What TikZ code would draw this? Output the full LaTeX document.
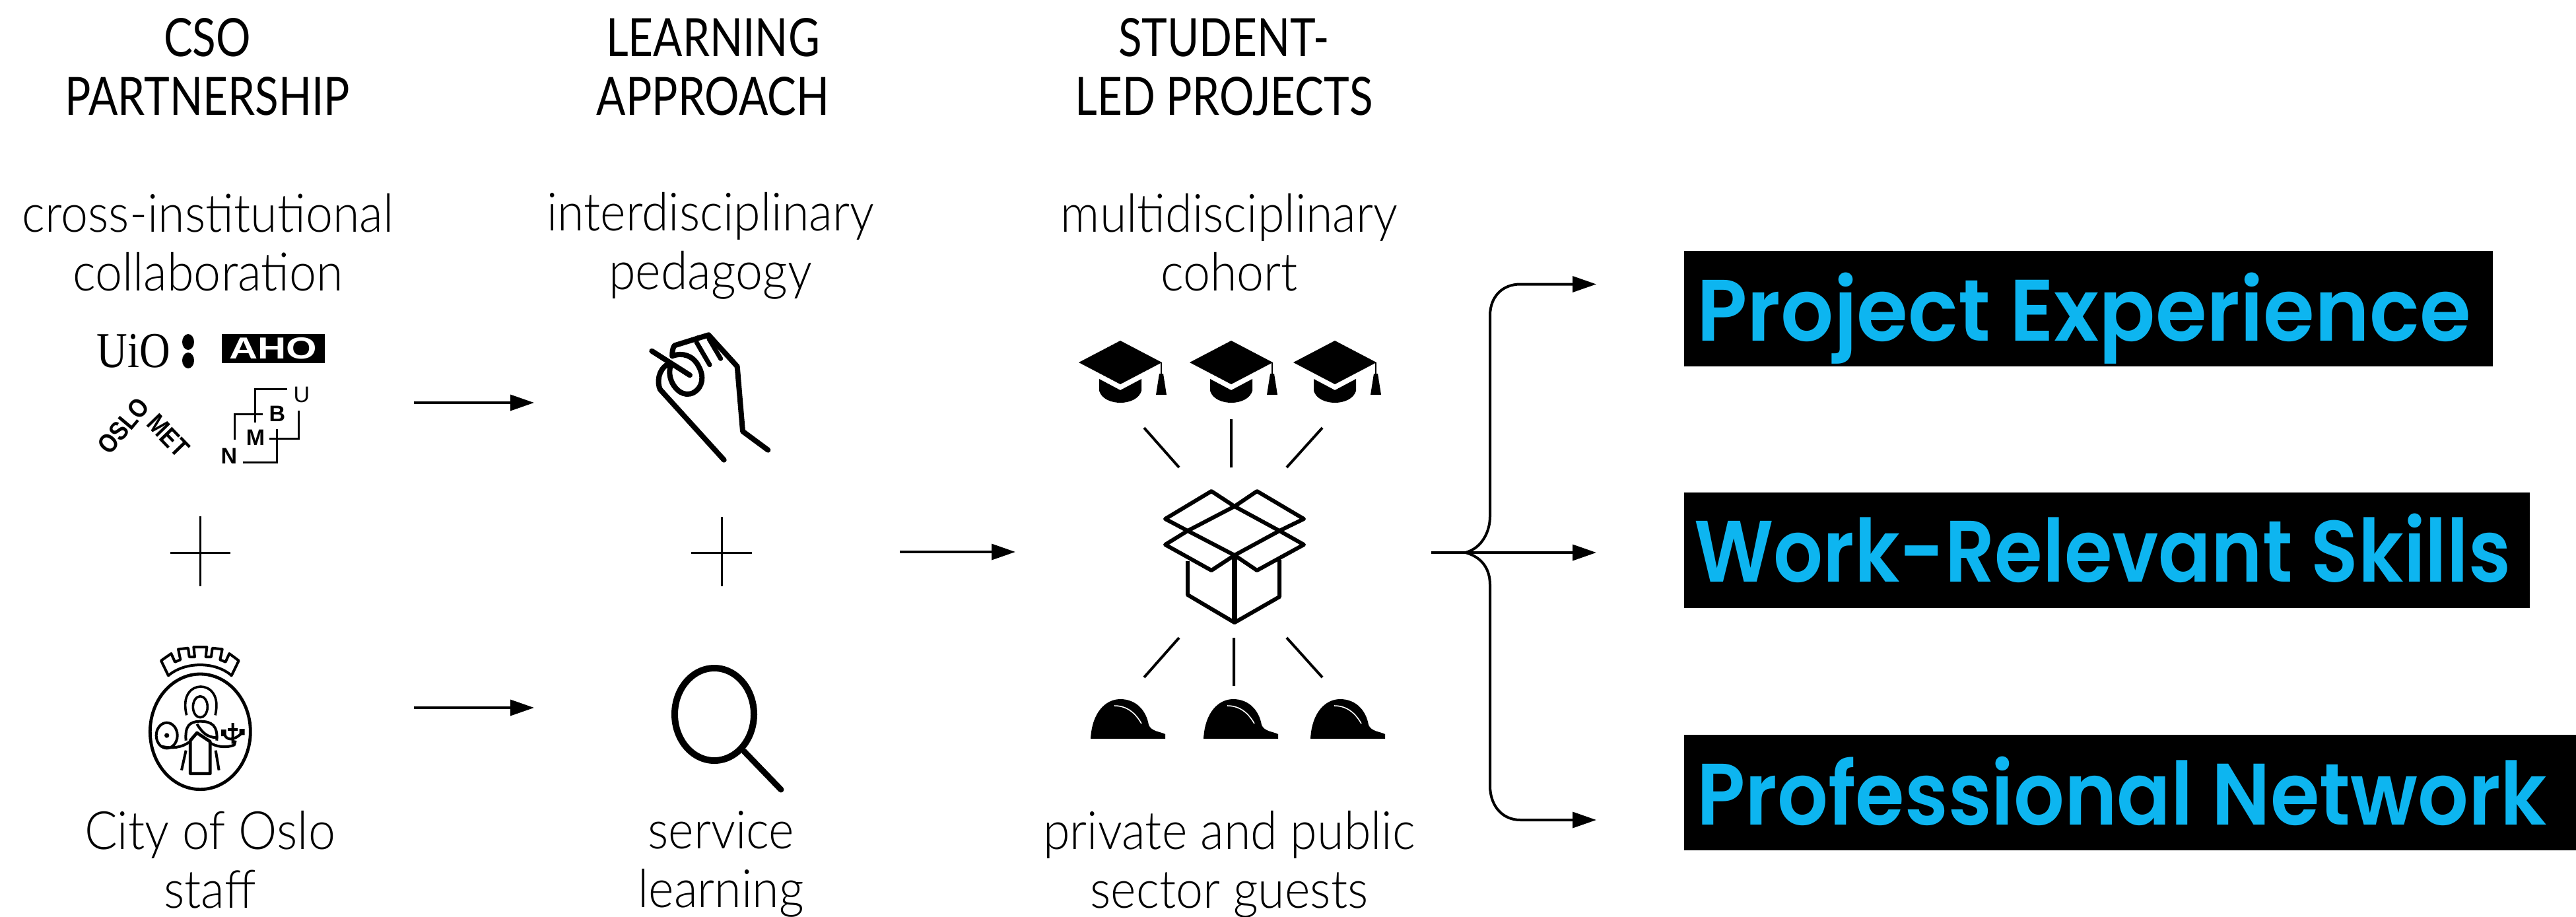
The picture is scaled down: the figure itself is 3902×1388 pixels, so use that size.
\documentclass[tikz,border=0pt]{standalone}
\usepackage{fontspec}
\usetikzlibrary{arrows.meta}
\setmainfont{Lato Light}[FakeStretch=0.92]
\newfontfamily\titlefont{Lato}[FakeStretch=0.82]
\newfontfamily\boxfont{Poppins SemiBold}[FakeStretch=0.88]
\newfontfamily\serifuio{Liberation Serif}[FakeStretch=0.85]
\newfontfamily\ahofont{Liberation Sans}[FakeStretch=1.3]
\newfontfamily\logofont{Liberation Sans}
\newfontfamily\oslofont{Liberation Sans}[FakeStretch=0.85]
\definecolor{skyb}{HTML}{0DB5F0}
\tikzset{
  titlelbl/.style={font=\titlefont\fontsize{40}{44.5}\selectfont,align=center,text=black,inner sep=0pt},
  sublbl/.style={font=\fontsize{40}{44.5}\selectfont,align=center,text=black,inner sep=0pt},
  outbox/.style={fill=black,inner sep=0pt,minimum height=87.5pt,anchor=north west},
  outtext/.style={text=skyb,font=\boxfont\fontsize{66}{72}\selectfont,inner sep=0pt,anchor=base west},
  flowarrow/.style={line width=1.8pt,-{Triangle[length=18pt,width=12pt]}},
  branch/.style={line width=2pt},
  icon/.style={line width=4pt,line cap=round,line join=round},
  boxline/.style={line width=3pt,line join=round},
  plusline/.style={line width=1.5pt},
  spoke/.style={line width=2pt},
  crest/.style={line width=2pt,line join=round},
  logoletter/.style={font=\logofont\bfseries\fontsize{17}{17}\selectfont,inner sep=0pt},
  oslotext/.style={font=\oslofont\bfseries\fontsize{20}{20}\selectfont,inner sep=0pt}
}
\begin{document}
\begin{tikzpicture}[x=0.5pt,y=-0.5pt]
\useasboundingbox (0,0) rectangle (3902,1388);
\fill[white] (0,0) rectangle (3902,1388);
% titles
\node[titlelbl] (t1) at (314,101) {CSO\\PARTNERSHIP};
\node[titlelbl] (t2) at (1080,101) {LEARNING\\APPROACH};
\node[titlelbl] (t3) at (1854,101) {STUDENT-\\LED PROJECTS};
% sublabels
\node[sublbl] (s1) at (315,367) {cross-institutional\\collaboration};
\node[sublbl] (s2) at (1076,372) {interdisciplinary\\pedagogy};
\node[sublbl] (s3) at (1862,367) {multidisciplinary\\cohort};
\node[sublbl] (s4) at (318,1302) {City of Oslo\\staff};
\node[sublbl] (s5) at (1092,1309) {service\\learning};
\node[sublbl] (s6) at (1862,1309) {private and public\\sector guests};
% output boxes
\node[outbox,minimum width=612.5pt] (b1) at (2551,380) {};
\node[outbox,minimum width=640.5pt] (b2) at (2551,746) {};
\node[outbox,minimum width=675.5pt] (b3) at (2551,1113) {};
\node[outtext] (o1) at (2570,516) {\scalebox{1.083}[1]{Project Experience}};
\node[outtext] (o2) at (2566,881) {\scalebox{1.012}[1]{Work-Relevant Skills}};
\node[outtext] (o3) at (2570,1249) {\scalebox{1.038}[1]{Professional Network}};
% UiO
\node[font=\serifuio\fontsize{38}{38}\selectfont,inner sep=0pt,anchor=base west] (uio) at (146,556) {UiO};
\fill (285,518) ellipse (9 and 12) (285,546) ellipse (9 and 12);
\node[fill=black,text=white,font=\ahofont\bfseries\fontsize{23}{23}\selectfont,inner sep=0pt,minimum width=78pt,minimum height=22pt] (aho) at (414,528) {AHO};
% OSLOMET
\node[oslotext,rotate=50] (oslo) at (187,645) {OSLO};
\node[oslotext,rotate=-46] (met) at (255,660) {MET};
% NMBU
\draw[line width=1.5pt] (435,589) -| (386,640);
\draw[line width=1.5pt] (398,627) -| (355,666);
\draw[line width=1.5pt] (408,664) -| (452,622);
\draw[line width=1.5pt] (419,650) |- (368,700);
\node[logoletter,font=\logofont\fontsize{17}{17}\selectfont] (nu) at (457,598) {U};
\node[logoletter] (nb) at (420,627) {B};
\node[logoletter] (nm) at (387,663) {M};
\node[logoletter] (nn) at (347,691) {N};
% plus signs
\draw[plusline] (258,837) -- (349,837) (303,782) -- (303,888);
\draw[plusline] (1047,837) -- (1139,837) (1093,783) -- (1093,888);
% arrows
\coordinate (a1s) at (627,610); \coordinate (a1e) at (809,610);
\coordinate (a2s) at (627,1072); \coordinate (a2e) at (809,1072);
\coordinate (a3s) at (1363,836); \coordinate (a3e) at (1538,836);
\draw[flowarrow] (a1s) -- (a1e);
\draw[flowarrow] (a2s) -- (a2e);
\draw[flowarrow] (a3s) -- (a3e);
% crest
\begin{scope}[shift={(100,940)},x=0.16667pt,y=-0.16667pt]
  \draw[crest,line width=2.4pt] (610,505) ellipse (228 and 262);
  \draw[crest] (465,250) -- (432,182) -- (478,150) -- (495,188) -- (520,178) -- (510,130) -- (555,125) -- (560,165) -- (585,165) -- (580,120) -- (640,120) -- (635,165) -- (660,165) -- (665,125) -- (710,130) -- (700,178) -- (725,188) -- (742,150) -- (785,182) -- (752,250) .. controls (680,185) and (540,185) .. cycle;
  \draw[crest,line width=1.8pt] (548,430) .. controls (525,340) and (570,300) .. (612,300) .. controls (655,300) and (700,340) .. (678,430);
  \draw[crest,line width=1.8pt] (610,392) ellipse (33 and 48);
  \draw[crest] (545,545) .. controls (540,480) and (560,458) .. (610,458) .. controls (665,458) and (690,480) .. (685,545);
  \draw[crest,line width=2.4pt] (565,695) -- (655,695) -- (655,550) -- (595,510) -- (565,545) -- cycle;
  \draw[crest] (595,470) .. controls (620,510) and (640,530) .. (685,532);
  \draw[crest] (458,522) ellipse (48 and 58);
  \fill (458,522) circle (11);
  \draw[crest] (560,552) .. controls (530,575) and (480,585) .. (430,570);
  \draw[crest] (650,552) .. controls (680,575) and (730,580) .. (765,565) -- (770,545);
  \draw[crest] (758,465) -- (758,560) (718,510) .. controls (725,545) and (760,550) .. (800,510) (735,495) -- (780,495);
  \fill (705,495) rectangle (728,525) (788,492) rectangle (812,520);
  \draw[crest] (545,590) -- (525,680) (680,590) -- (695,680);
\end{scope}
% hand
\begin{scope}[shift={(950,480)},x=0.16667pt,y=-0.16667pt]
  \draw[icon] (112,155) -- (285,265);
  \draw[icon] (640,605) -- (525,520) -- (500,225) -- (370,82) -- (215,130) .. controls (205,145) and (205,160) .. (205,178);
  \draw[icon] (440,650) -- (150,330) .. controls (135,300) and (140,240) .. (185,215);
  \draw[icon] (205,178) .. controls (250,160) and (300,175) .. (325,225) .. controls (350,270) and (345,320) .. (300,345) .. controls (255,365) and (220,330) .. (205,300) .. controls (190,270) and (190,240) .. (200,215);
  \draw[icon,line width=3.5pt] (315,115) -- (375,218) (372,100) -- (425,190) (320,95) -- (372,85);
\end{scope}
% magnifier
\draw[icon,line width=5pt] (1082,1082) ellipse (60 and 70);
\draw[icon,line width=4.5pt] (1127,1138) -- (1183,1196);
% caps
\foreach \cx in {1697,1865,2022}{
  \begin{scope}[shift={(\cx,0)}]
    \fill (0,516) -- (63,549) -- (0,582) -- (-63,549) -- cycle;
    \fill (-32,574) -- (0,591) -- (32,574) -- (32,592) .. controls (25,616) and (-25,616) .. (-32,592) -- cycle;
    \draw[line width=1.2pt] (62,549) -- (62,570);
    \fill (59,566) -- (65,566) -- (70,598) -- (54,598) -- cycle;
  \end{scope}
}
% box
\draw[boxline] (1799,804) -- (1765,786) -- (1835,744) -- (1870,767) -- (1904,744) -- (1975,786) -- (1938,804) -- (1870,767) -- cycle;
\draw[boxline] (1799,804) -- (1765,825) -- (1835,864) -- (1870,841) -- (1904,864) -- (1975,825) -- (1938,804) -- (1870,841) -- cycle;
\draw[boxline] (1799,850) -- (1799,901) -- (1870,943) -- (1938,904) -- (1938,848);
\draw[boxline,line width=4pt] (1870,841) -- (1870,943);
% spokes
\draw[spoke] (1733,648) -- (1786,708) (1865,635) -- (1865,708) (2003,648) -- (1949,708);
\draw[spoke] (1786,966) -- (1733,1026) (1869,966) -- (1869,1039) (1949,966) -- (2003,1026);
% helmets
\foreach \hx in {1652,1823,1985}{
  \begin{scope}[shift={(\hx,0)}]
    \fill (0,1119) .. controls (2,1080) and (22,1059) .. (45,1059) .. controls (68,1059) and (84,1075) .. (88,1098) .. controls (92,1108) and (105,1108) .. (113,1112) -- (113,1119) -- cycle;
    \draw[white,line width=0.8pt] (36,1069) .. controls (55,1069) and (68,1080) .. (77,1096);
  \end{scope}
}
% branches
\coordinate (hs) at (2168,837);
\coordinate (hub) at (2220,837);
\coordinate (ot) at (2418,430.5);
\coordinate (om) at (2418,837);
\coordinate (ob) at (2418,1242);
\draw[branch] (hs) -- (hub);
\draw[flowarrow] (hub) -- (om);
\draw[branch] (hub) .. controls (2245,830) and (2257,805) .. (2257,782) -- (2257,478) .. controls (2257,450) and (2275,430.5) .. (2303,430.5) -- (2390,430.5);
\draw[flowarrow] (2303,430.5) -- (ot);
\draw[branch] (hub) .. controls (2245,844) and (2257,862) .. (2257,886) -- (2257,1190) .. controls (2257,1220) and (2275,1242) .. (2303,1242) -- (2390,1242);
\draw[flowarrow] (2303,1242) -- (ob);
\end{tikzpicture}
\end{document}
